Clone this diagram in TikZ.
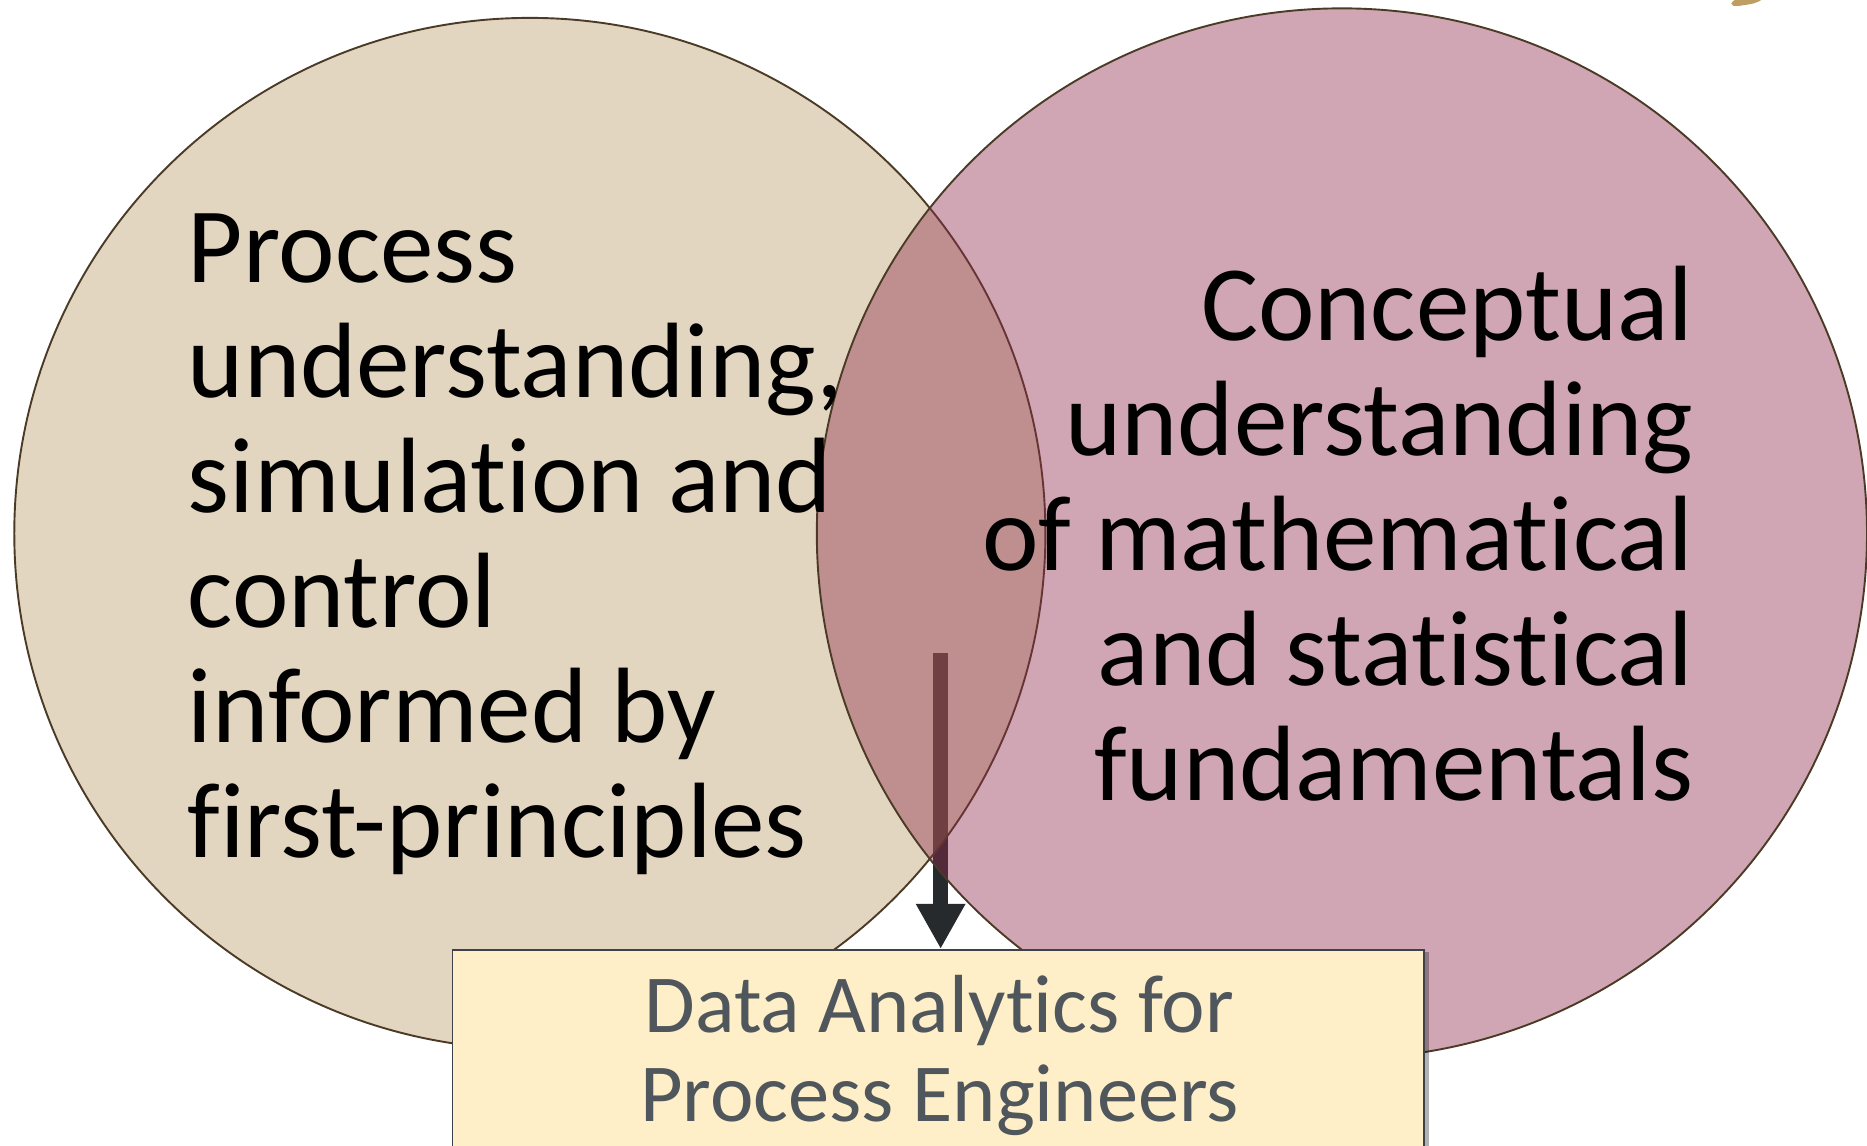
\documentclass[tikz,border=0pt]{standalone}
\usepackage{fontspec}
\setmainfont{Carlito}[Ligatures=NoCommon]
\usetikzlibrary{arrows.meta,shadows}
\definecolor{leftfill}{RGB}{177,144,85}
\definecolor{rightfill}{RGB}{143,43,76}
\definecolor{circline}{RGB}{75,59,38}
\definecolor{arrowcol}{RGB}{38,42,45}
\definecolor{boxfill}{RGB}{255,239,200}
\definecolor{boxline}{RGB}{60,66,71}
\definecolor{boxtextcol}{RGB}{79,86,92}
\definecolor{goldmark}{RGB}{190,158,98}
\pgfdeclarelayer{arrowlayer}
\pgfdeclarelayer{circlelayer}
\pgfsetlayers{arrowlayer,circlelayer,main}
\begin{document}
\begin{tikzpicture}[x=0.1mm,y=-0.1mm,
  venn/.style={circle, draw=circline, line width=0.16mm, inner sep=0pt},
  bigtext/.style={font=\fontsize{25.6}{27.45}\selectfont, inner sep=0pt, text=black},
  boxstyle/.style={draw=boxline, line width=0.15mm, fill=boxfill,
    drop shadow={shadow xshift=0.45mm, shadow yshift=-0.2mm, opacity=0.3, fill=black}},
  boxtext/.style={font=\fontsize{19.7}{21.34}\selectfont, text=boxtextcol, inner sep=0pt},
  bigarrow/.style={draw=arrowcol, line width=1.3mm, -{Triangle[width=3.9mm,length=3.8mm]}}
]
\useasboundingbox (0,0) rectangle (1568,962);

% gold mark at top right
\fill[goldmark] (1454,3) .. controls (1456,0) .. (1462,-1) -- (1481,-1)
  .. controls (1474,3) .. (1460,5) .. controls (1455,5) .. (1454,3) -- cycle;

% texts (anchored at the baseline of the last line)
\node[bigtext, align=left, anchor=base west] (lefttext) at (157,720)
  {Process\\understanding,\\simulation and\\control\\informed by\\first-principles};
\node[bigtext, align=right, anchor=base east] (righttext) at (1423,672)
  {Conceptual\\understanding\\of mathematical\\and statistical\\fundamentals};

% box
\node[boxstyle, anchor=north, minimum width=81.6mm, minimum height=22mm] (box) at (788,797) {};
\node[boxtext, align=center, anchor=base] (boxlabel) at (789,942)
  {Data Analytics for\\Process Engineers};

% circles
\begin{pgfonlayer}{circlelayer}
\node[venn, minimum size=86.6mm, fill=leftfill, fill opacity=0.37] (leftc) at (445,448) {};
\node[venn, minimum size=88.2mm, fill=rightfill, fill opacity=0.42] (rightc) at (1127,448) {};
\end{pgfonlayer}

% arrow
\begin{pgfonlayer}{arrowlayer}
\coordinate (arrtop) at (790,548);
\draw[bigarrow] (arrtop) -- (arrtop |- box.north);
\end{pgfonlayer}
\end{tikzpicture}
\end{document}
